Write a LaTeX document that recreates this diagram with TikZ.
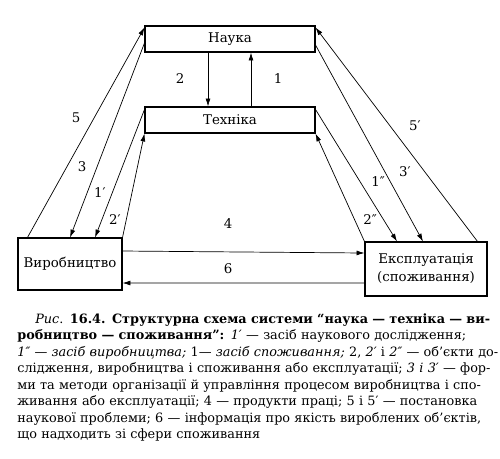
\documentclass[tikz,border=0pt]{standalone}
\usepackage{fontspec}
\setmainfont{DejaVu Serif}
\usetikzlibrary{arrows.meta}
\newcommand\capline[1]{\noindent\makebox[\hsize][s]{#1}\par}
\begin{document}
\begin{tikzpicture}[x=0.02cm,y=-0.02cm,>={Latex[length=4.5pt,width=2.8pt]},
   box/.style={draw,line width=0.6pt,inner sep=0pt,font=\fontsize{7.6}{10.2}\selectfont},
   lbl/.style={inner sep=0pt,font=\fontsize{7.6}{9}\selectfont}]
   \useasboundingbox (0,0) rectangle (500,458);

   % блоки
   \node[box,minimum width=3.4cm,minimum height=0.52cm] (nauka) at (230,39) {Наука};
   \node[box,minimum width=3.4cm,minimum height=0.52cm] (tekh) at (230,120) {Техніка};
   \node[box,minimum width=2.08cm,minimum height=1.04cm] (vyrob) at (70,264) {Виробництво};
   \node[box,minimum width=2.44cm,minimum height=1.08cm,align=center] (ekspl) at (426,269) {Експлуатація\\(споживання)};

   % зв'язки
   \draw[->] ([xshift=-0.44cm]nauka.south) -- ([xshift=-0.44cm]tekh.north);
   \draw[->] ([xshift=0.42cm]tekh.north) -- ([xshift=0.42cm]nauka.south);
   \draw[->] ([xshift=0.2cm]vyrob.north west) -- ([yshift=-0.04cm]nauka.north west);
   \draw[->] ([yshift=-0.08cm]nauka.west) -- (vyrob.north);
   \draw[->] ([yshift=-0.06cm]tekh.north west) -- ([xshift=0.5cm]vyrob.north);
   \draw[->] (vyrob.north east) -- (tekh.south west);
   \draw[->] ([xshift=-0.2cm]ekspl.north east) -- ([yshift=-0.04cm]nauka.north east);
   \draw[->] ([yshift=-0.12cm]nauka.east) -- ([xshift=-0.06cm]ekspl.north);
   \draw[->] ([yshift=-0.06cm]tekh.north east) -- ([xshift=-0.58cm]ekspl.north);
   \draw[->] (ekspl.north west) -- (tekh.south east);
   \draw[->] ([yshift=0.26cm]vyrob.east) -- ([yshift=0.32cm]ekspl.west);
   \draw[->] ([yshift=-0.28cm]ekspl.west) -- ([yshift=-0.38cm]vyrob.east);

   % позначки
   \node[lbl] (n2) at (180,79) {2};
   \node[lbl] (n1) at (278,79) {1};
   \node[lbl] (n5) at (76,118) {5};
   \node[lbl] (n5p) at (415,126) {5′};
   \node[lbl] (n3) at (82,167) {3};
   \node[lbl] (n3p) at (405,172) {3′};
   \node[lbl] (n1p) at (100,193) {1′};
   \node[lbl] (n1pp) at (378,182) {1″};
   \node[lbl] (n2p) at (115,220) {2′};
   \node[lbl] (n2pp) at (370,220) {2″};
   \node[lbl] (n4) at (228,224) {4};
   \node[lbl] (n6) at (228,269) {6};

   % підпис
   \node[anchor=north west,inner sep=0pt,text width=9.42cm,
         font=\fontsize{7.3}{9.39}\selectfont] (pidpys) at (17,313) {%
   \capline{\hspace*{0.36cm}\textit{Рис}. \textbf{16.4. Структурна схема системи “наука — техніка — ви-}}
   \capline{\textbf{робництво — споживання”:} \textit{1′} — засіб наукового дослідження;}
   \capline{\textit{1″ — засіб виробництва;} 1— \textit{засіб споживання;} 2, \textit{2′} і \textit{2″} — об’єкти до-}
   \capline{слідження, виробництва і споживання або експлуатації; \textit{3 і 3′} — фор-}
   \capline{ми та методи організації й управління процесом виробництва і спо-}
   \capline{живання або експлуатації; 4 — продукти праці; 5 і 5′ — постановка}
   \capline{наукової проблеми; 6 — інформація про якість вироблених об’єктів,}
   \noindent що надходить зі сфери споживання};
\end{tikzpicture}
\end{document}
